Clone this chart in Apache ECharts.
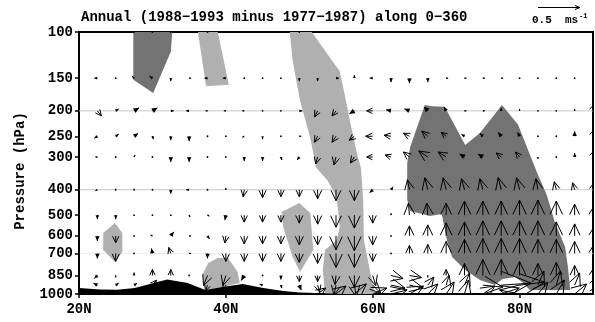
<!DOCTYPE html>
<html>
<head>
<meta charset="utf-8">
<script src="https://cdn.jsdelivr.net/npm/echarts@6/dist/echarts.min.js"></script>
<style>
  html, body { margin: 0; padding: 0; background: #fff; }
  #chart { width: 595px; height: 322px; }
</style>
</head>
<body>
<div id="chart"></div>
<script>
// grid of the vector field
const lats = [20, 22.5, 25, 27.5, 30, 32.5, 35, 37.5, 40, 42.5, 45, 47.5, 50, 52.5, 55,
  57.5, 60, 62.5, 65, 67.5, 70, 72.5, 75, 77.5, 80, 82.5, 85, 87.5, 90];
const levels = [100, 150, 200, 250, 300, 400, 500, 600, 700, 850, 925, 1000];
const tickLevels = [100, 150, 200, 250, 300, 400, 500, 600, 700, 850, 1000];
const latTicks = [20, 40, 60, 80];
const guideLevels = [200, 400, 700];

// meridional wind difference (rows = levels, cols = lats); unit = 1/84 m/s, so 42 = 0.5 m/s
const uWind = [
  [1, 1, 1, 1, 1, 1, 1, 1, 1, 1, 1, 1, 1, 1, 1, 1, 1, 1, 1, 1, 1, 1, 1, 1, 1, 1, 1, 1, 1],
  [-4, -3, -1, -2, -3, 0, 2, -3, -3, 1, 1, 1, 0, 0, 3, 0, -3, 0, 0, 0, 2, 2, 2, 2, 1, 1, 1, 1, 1],
  [-3, 4, 3, 5, 5, 3, -3, -2, -2, -2, 1, -1, 3, -3, -4, -5, -6, -5, -5, -4, -2, 2, 2, 0, 0, 1, 0, 0, 3],
  [1, -3, 3, 4, 1, 0, 0, 1, 1, -2, 0, 1, 2, -3, -4, -5, -7, -7, -6, -6, -5, -3, -3, -3, -2, 1, 0, 0, 3],
  [1, -2, 1, 1, 1, 0, 0, 1, 1, 0, 0, 1, -2, -2, -2, -4, -6, -6, -6, -9, -8, -5, -5, -5, -4, 0, 1, 0, 3],
  [1, -2, 1, 1, 1, 0, -3, 1, 0, -1, 0, 0, 0, 0, 0, 0, -3, 2, -2, -3, -3, -3, -3, -3, -3, -2, -2, -2, 2],
  [1, 0, 0, 1, 1, 1, 1, 2, -1, 0, 0, 0, 0, 0, 0, 0, 0, 0, -1, -1, 0, 0, 0, 0, 0, 0, 0, 0, 1],
  [1, 0, 0, 1, -2, 3, 2, 2, -1, 0, 0, 0, 0, 0, 0, 0, 0, 0, 0, 0, 0, 0, 0, 0, 0, 0, 0, 0, 1],
  [1, 0, 0, 1, -1, -2, 2, 0, 0, 0, 0, 0, 0, 0, 0, 0, 0, 0, 0, 0, 0, 0, 0, 0, 0, 0, 0, 0, 1],
  [1, -3, 0, 0, 0, 0, 0, -4, -3, -3, 0, 0, 0, 0, -1, 0, 3, 12, 12, 0, 0, 0, 0, 0, 0, 0, 0, 0, 1],
  [null, -4, 3, 3, 4, null, null, -2, -3, null, -3, 1, 2, 2, -2, 2, 8, 14, 14, 6, 3, 5, 20, 30, 25, 6, 4, 5, 3],
  [null, null, null, null, null, null, null, null, null, null, null, null, null, 8, 10, 12, 14, 16, 14, 10, 8, 4, 12, 18, -20, 10, 8, 12, 6]
];
// vertical motion difference (scaled, up positive), same layout
const wWind = [
  [0, 0, 0, 0, 0, 0, 0, 0, 0, 0, 0, 0, 0, 0, 0, 0, 0, 0, 0, 0, 0, 0, 0, 0, 0, 0, 0, 0, 0],
  [1, 0, 0, 2, 2, -3, 0, 0, 0, 0, 0, 0, -3, -3, 0, 3, 0, -4, -5, -4, 0, 0, 0, 0, 0, 0, 0, 0, 0],
  [2, -5, 2, 3, 3, 0, 0, 0, 0, 0, 0, 0, 0, -6, -5, -3, 0, 1, 2, 4, 4, 0, 0, 3, 2, 0, -1, 2, 8],
  [0, -2, 2, 3, -3, -4, -5, 0, 0, -1, -3, 0, 0, -6, -6, -4, 0, 1, 3, 5, 4, 2, 3, 4, 4, 0, -1, 5, 8],
  [0, 0, 0, 2, 0, -5, -5, 0, 0, -4, -4, -3, -3, -7, -8, -6, 0, 2, 5, 6, 5, 3, 3, 4, 5, -2, 0, 4, 8],
  [0, -1, 0, 0, 0, -4, 0, 0, 2, -7, -8, -7, -7, -9, -11, -11, -3, 3, 10, 12, 12, 11, 11, 12, 12, 11, 8, 7, 8],
  [0, -4, -4, 0, 0, 0, -2, -1, -5, -7, -7, -7, -8, -9, -12, -13, -8, 2, 12, 12, 12, 14, 14, 14, 15, 15, 14, 11, 9],
  [0, -5, -7, 0, 1, 4, 0, -3, -7, -8, -8, -8, -9, -9, -14, -15, -9, 1, 10, 11, 13, 14, 15, 15, 15, 15, 14, 12, 9],
  [0, -5, -8, 0, 5, 6, 0, -5, -8, -8, -8, -8, -9, -10, -14, -14, -8, 1, 8, 9, 12, 14, 15, 15, 15, 14, 14, 12, 9],
  [0, -3, -2, 3, 6, 6, -1, -10, -10, -5, -1, -4, -6, -6, -9, -12, -10, -3, -2, -2, 6, 12, 16, 16, 14, 12, 13, 10, 8],
  [null, 2, 2, 2, 5, null, null, -6, -6, null, 1, -3, -5, -7, -10, -12, -8, -3, -3, 8, 10, 12, -2, 2, 3, 14, 14, 12, 8],
  [null, null, null, null, null, null, null, null, null, null, null, null, null, 6, 8, 10, 6, 4, 8, 10, 12, 14, 8, 6, 4, 12, 14, 10, 8]
];

// shaded areas, outlines as [lat, hPa]
const lightAreas = [
  [[36.2, 100], [38.9, 100], [40.4, 159], [37.3, 161]],
  [[48.7, 100], [49.1, 129], [50.1, 183], [51.5, 254], [52.3, 330], [53.8, 367], [55.1, 426], [55.5, 555],
   [55.1, 622], [53.5, 679], [53.2, 810], [53.5, 1000], [60.3, 1000], [59.6, 810], [58.8, 622], [58.7, 438],
   [58.4, 330], [57.9, 295], [56.9, 219], [56.2, 174], [55.5, 141], [54.5, 129], [51.7, 100]],
  [[47.6, 486], [50.0, 449], [51.5, 491], [51.9, 679], [50.1, 824], [49.1, 722], [47.8, 555]],
  [[23.3, 585], [24.9, 536], [25.9, 585], [25.9, 691], [24.9, 755], [23.3, 679]],
  [[36.8, 846], [37.6, 762], [38.9, 729], [40.3, 729], [41.6, 824], [41.9, 908], [39.5, 940], [37.2, 965]]
];
const darkAreas = [
  [[27.4, 100], [32.7, 100], [32.5, 119], [30.1, 171], [27.4, 152]],
  [[64.7, 438], [64.7, 316], [65.1, 275], [67.1, 190], [68.1, 192], [69.8, 193], [72.6, 270], [74.6, 243],
   [77.6, 190], [79.8, 226], [82.4, 345], [83.7, 419], [84.8, 531], [86.2, 661], [86.6, 796], [86.9, 965],
   [81.4, 965], [80.5, 908], [79.4, 861], [77.7, 877], [76.6, 924], [74.6, 884], [72.6, 810], [70.8, 722],
   [70.1, 622], [69.4, 495], [67.8, 504], [65.1, 482]]
];
const terrain = [[20, 948], [22.9, 961], [25.2, 963], [27.6, 948], [32.0, 880], [34.8, 908], [37.2, 965],
  [39.5, 940], [42.3, 916], [45.1, 948], [47.8, 974], [50.1, 987], [54.2, 995], [56, 1000], [20, 1000]];

const refSpeed = '0.5';
const VSCALE = 1;
const FONT = 'Liberation Mono';

function areaSeries(polys, color) {
  return {
    type: 'custom',
    coordinateSystem: 'cartesian2d',
    silent: true,
    clip: true,
    data: polys.map((p, i) => [p[0][0], Math.log10(p[0][1]), i]),
    encode: { x: 0, y: 1 },
    renderItem: function (params, api) {
      const poly = polys[api.value(2)];
      return {
        type: 'polygon',
        shape: { points: poly.map(d => api.coord([d[0], Math.log10(d[1])])) },
        style: { fill: color }
      };
    }
  };
}

let vecData = [];
levels.forEach((p, i) => {
  lats.forEach((lat, j) => {
    if (uWind[i][j] == null) return;
    vecData.push([lat, Math.log10(p), uWind[i][j], wWind[i][j]]);
  });
});

let chart = echarts.init(document.getElementById('chart'));
let option = {
  animation: false,
  title: {
    text: 'Annual (1988\u22121993 minus 1977\u22121987) along 0\u2212360',
    left: 76,
    top: 5,
    textStyle: { fontFamily: FONT, fontWeight: 'bold', fontSize: 14, color: '#000' }
  },
  grid: {
    left: 79, right: 2, top: 32, bottom: 28,
    show: true, borderColor: '#000', borderWidth: 2
  },
  xAxis: {
    type: 'value',
    min: 20, max: 90,
    axisLine: { lineStyle: { color: '#000', width: 2 } },
    axisTick: { customValues: latTicks, length: 4, lineStyle: { color: '#000', width: 1.5 } },
    axisLabel: {
      customValues: latTicks,
      margin: 8,
      color: '#000', fontFamily: FONT, fontWeight: 'bold', fontSize: 14,
      formatter: v => v + 'N'
    },
    splitLine: { show: false }
  },
  yAxis: {
    type: 'value',
    min: 2, max: 3,
    inverse: true,
    axisLine: { lineStyle: { color: '#000', width: 2 } },
    axisTick: { customValues: tickLevels.map(p => Math.log10(p)), length: 4, lineStyle: { color: '#000', width: 1.5 } },
    axisLabel: {
      customValues: tickLevels.map(p => Math.log10(p)),
      margin: 6,
      color: '#000', fontFamily: FONT, fontWeight: 'bold', fontSize: 14,
      formatter: v => String(Math.round(Math.pow(10, v)))
    },
    splitLine: { show: false }
  },
  graphic: [
    {
      type: 'text', x: 20, y: 171, rotation: Math.PI / 2,
      style: { text: 'Pressure (hPa)', fontFamily: FONT, fontWeight: 'bold', fontSize: 14, fill: '#000',
        align: 'center', verticalAlign: 'middle' }
    },
    { type: 'line', shape: { x1: 538, y1: 7.5, x2: 580, y2: 7.5 }, style: { stroke: '#000', lineWidth: 1 } },
    { type: 'polyline', shape: { points: [[575, 5.5], [580, 7.5], [575, 9.5]] }, style: { stroke: '#000', fill: null, lineWidth: 1 } },
    {
      type: 'text', x: 532, y: 20,
      style: { text: refSpeed + '  ms', fontFamily: FONT, fontWeight: 'bold', fontSize: 11, fill: '#000',
        align: 'left', verticalAlign: 'middle' }
    },
    {
      type: 'text', x: 579, y: 16,
      style: { text: '-1', fontFamily: FONT, fontWeight: 'bold', fontSize: 7, fill: '#000',
        align: 'left', verticalAlign: 'middle' }
    }
  ],
  series: [
    {
      type: 'custom',
      coordinateSystem: 'cartesian2d',
      silent: true,
      data: guideLevels.map((p, i) => [20, Math.log10(p), i]),
      encode: { x: 0, y: 1 },
      renderItem: function (params, api) {
        const a = api.coord([20, api.value(1)]);
        const b = api.coord([90, api.value(1)]);
        return {
          type: 'line',
          shape: { x1: a[0], y1: a[1], x2: b[0], y2: b[1] },
          style: { stroke: api.value(2) < 2 ? '#c8c8c8' : '#ebebeb', lineWidth: 1 }
        };
      }
    },
    areaSeries(lightAreas, '#b0b0b0'),
    areaSeries(darkAreas, '#737373'),
    areaSeries([terrain], '#000'),
    {
      type: 'custom',
      coordinateSystem: 'cartesian2d',
      silent: true,
      clip: true,
      data: vecData,
      encode: { x: 0, y: 1 },
      renderItem: function (params, api) {
        const o = api.coord([api.value(0), api.value(1)]);
        const u = api.value(2) * VSCALE, w = api.value(3) * VSCALE;
        const L = Math.hypot(u, w);
        if (L < 1.5) {
          return { type: 'circle', shape: { cx: o[0], cy: o[1], r: 0.9 }, style: { fill: '#000' } };
        }
        const dx = u / L, dy = -w / L;
        const tip = [o[0] + u, o[1] - w];
        const hl = L * 0.95, hw = L * 0.45;
        const bx = tip[0] - dx * hl, by = tip[1] - dy * hl;
        const b1 = [bx - dy * hw, by + dx * hw];
        const b2 = [bx + dy * hw, by - dx * hw];
        const head = L < 6
          ? { type: 'polygon', shape: { points: [b1, tip, b2] }, style: { fill: '#000' } }
          : { type: 'polyline', shape: { points: [b1, tip, b2] }, style: { stroke: '#000', fill: null, lineWidth: 1 } };
        return {
          type: 'group',
          children: [
            { type: 'line', shape: { x1: o[0], y1: o[1], x2: tip[0], y2: tip[1] }, style: { stroke: '#000', lineWidth: 1 } },
            head
          ]
        };
      }
    }
  ]
};
chart.setOption(option);
</script>
</body>
</html>
